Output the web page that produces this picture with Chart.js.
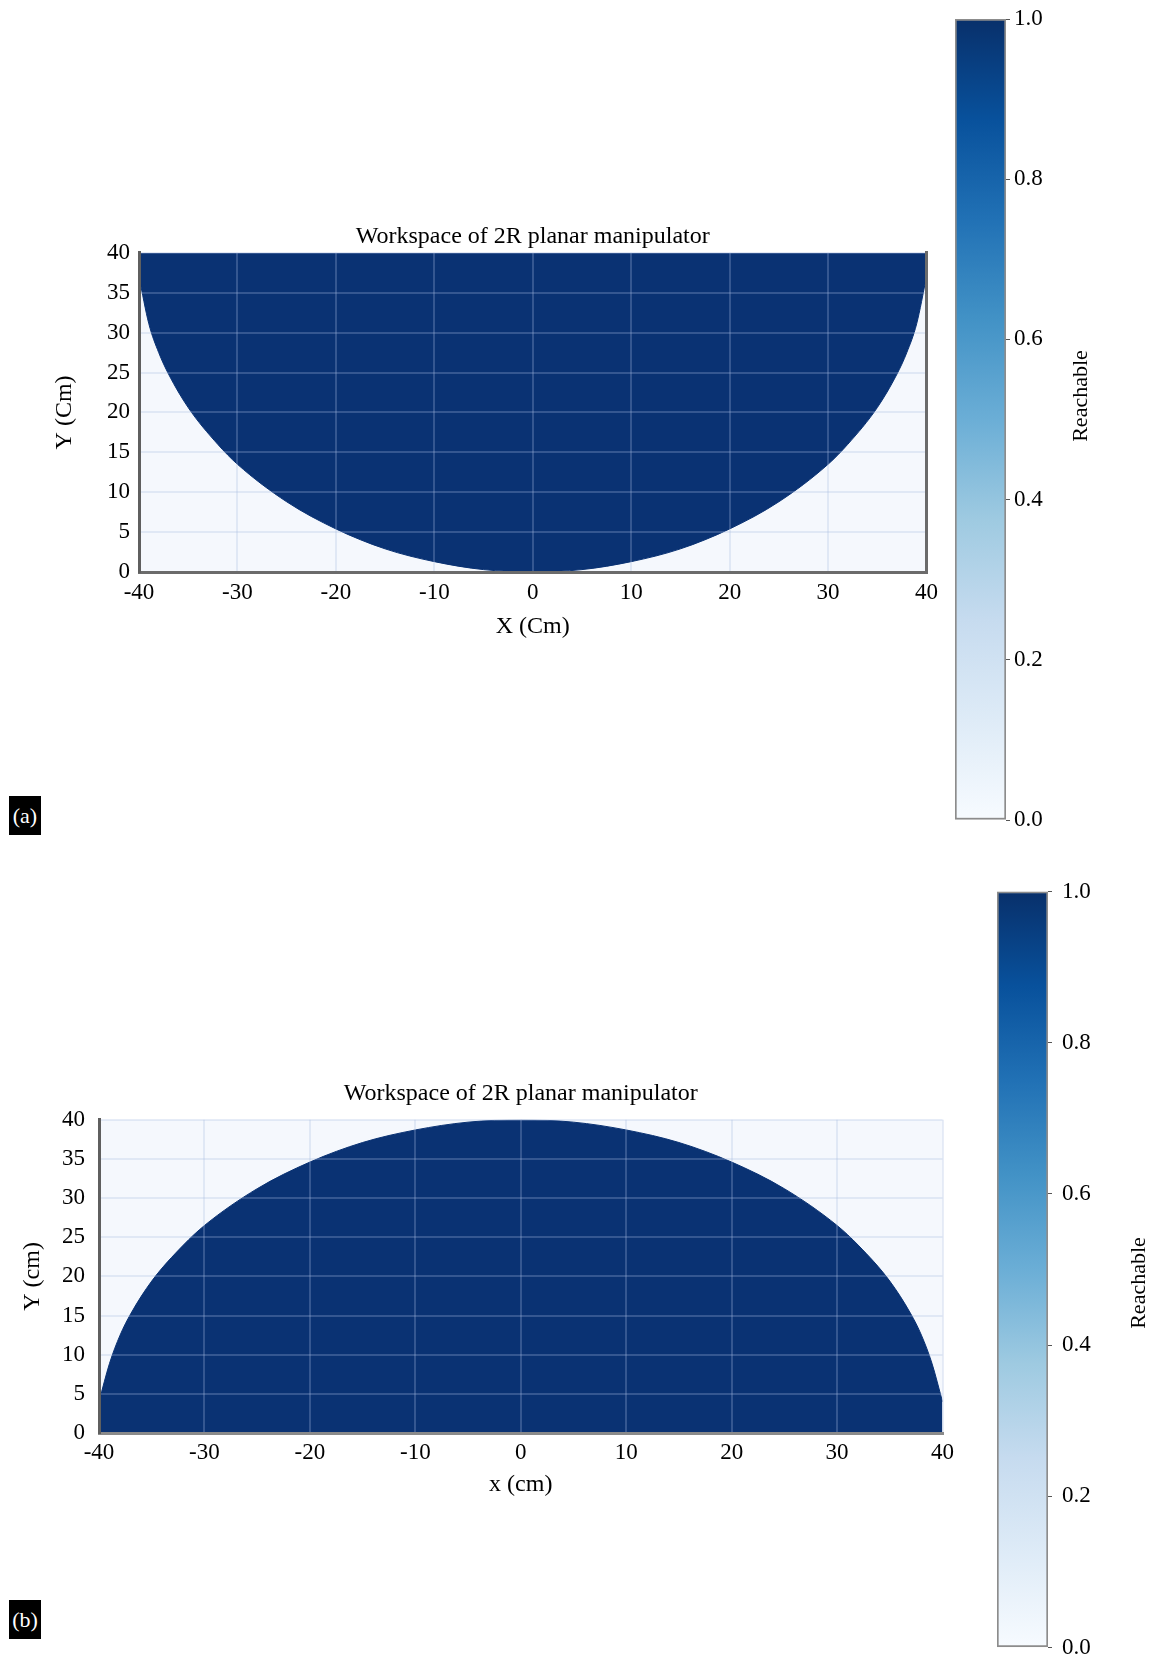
<!DOCTYPE html>
<html>
<head>
<meta charset="utf-8">
<title>Workspace of 2R planar manipulator</title>
<script src="https://cdn.jsdelivr.net/npm/chart.js@4.4.1/dist/chart.umd.min.js"></script>
<style>
  body { margin: 0; background: #fff; }
  #page { position: relative; width: 1157px; height: 1669px; overflow: hidden; font-family: "Liberation Serif", serif; }
  canvas { position: absolute; }
  .tag { position: absolute; left: 9px; width: 32px; height: 39px; background: #000; color: #fff; font-size: 22px; line-height: 39px; text-align: center; }
</style>
</head>
<body>
<div id="page">
  <canvas id="plotA" width="945" height="441" style="left:0;top:200px"></canvas>
  <canvas id="barA" width="212" height="840" style="left:945px;top:0"></canvas>
  <canvas id="plotB" width="960" height="449" style="left:0;top:1050px"></canvas>
  <canvas id="barB" width="167" height="799" style="left:990px;top:870px"></canvas>
  <div class="tag" style="top:796px">(a)</div>
  <div class="tag" style="top:1600px">(b)</div>
</div>
<script>
// boundary of the reachable region (x in cm -> y in cm)
const boundaryX = [-40, -39, -38, -37, -35, -32, -30, -25, -20, -15, -10, -5, 0, 5, 10, 15, 20, 25, 30, 32, 35, 37, 38, 39, 40];
// (a) lower edge of the region, filled up to y = 40
const lowerEdgeA = [37, 31.1, 27.5, 24.8, 20.6, 16.0, 13.5, 8.8, 5.4, 2.9, 1.3, 0.3, 0, 0.3, 1.3, 2.9, 5.4, 8.8, 13.5, 16.0, 20.6, 24.8, 27.5, 31.1, 37];
// (b) upper edge of the region, filled down to y = 0
const upperEdgeB = [4, 8.9, 12.5, 15.2, 19.4, 24.0, 26.5, 31.2, 34.6, 37.1, 38.7, 39.7, 40, 39.7, 38.7, 37.1, 34.6, 31.2, 26.5, 24.0, 19.4, 15.2, 12.5, 8.9, 4];

const xTicks = [-40, -30, -20, -10, 0, 10, 20, 30, 40];
const yTicks = [0, 5, 10, 15, 20, 25, 30, 35, 40];
const barTicks = [0, 0.2, 0.4, 0.6, 0.8, 1.0];

// matplotlib "Blues" stops for the colour bar
const bluesStops = ['#f7fbff', '#deebf7', '#c6dbef', '#9ecae1', '#6baed6', '#4292c6', '#2171b5', '#08519c', '#08306b'];

const SERIF = '"Liberation Serif", "DejaVu Serif", serif';
const NAVY = '#0a3273';
const GRID = 'rgba(170,190,225,0.27)';

const plotBg = {
    id: 'plotBg',
    beforeDraw(chart, args, opts) {
        const a = chart.chartArea;
        const c = chart.ctx;
        c.save();
        c.fillStyle = opts.color;
        c.fillRect(a.left, a.top, a.right - a.left, a.bottom - a.top);
        c.restore();
    }
};

// rotated label reading bottom-to-top (right side of colour bars)
const sideLabel = {
    id: 'sideLabel',
    afterDraw(chart, args, opts) {
        const c = chart.ctx;
        c.save();
        c.translate(opts.x, opts.y);
        c.rotate(-Math.PI / 2);
        c.font = '22px ' + SERIF;
        c.fillStyle = '#000';
        c.textAlign = 'center';
        c.textBaseline = 'middle';
        c.fillText(opts.text, 0, 0);
        c.restore();
    }
};

function workspaceChart(id, edge, cfg) {
    const points = boundaryX.map((x, i) => ({ x: x, y: edge[i] }));
    return new Chart(document.getElementById(id), {
        type: 'line',
        data: {
            datasets: [{
                data: points,
                fill: cfg.fill,
                backgroundColor: NAVY,
                borderColor: NAVY,
                borderWidth: 1,
                pointRadius: 0,
                cubicInterpolationMode: 'monotone'
            }]
        },
        plugins: [plotBg],
        options: {
            responsive: false,
            animation: false,
            layout: { padding: cfg.padding },
            plugins: {
                legend: { display: false },
                tooltip: { enabled: false },
                plotBg: { color: '#f5f8fd' },
                title: {
                    display: true,
                    fullSize: false,
                    text: 'Workspace of 2R planar manipulator',
                    color: '#000',
                    font: { family: SERIF, size: 24, weight: 'normal' },
                    padding: cfg.titlePad
                }
            },
            scales: {
                x: {
                    type: 'linear',
                    min: -40,
                    max: 40,
                    afterBuildTicks: axis => { axis.ticks = xTicks.map(v => ({ value: v })); },
                    afterFit: axis => { axis.height = cfg.xHeight; },
                    ticks: { color: '#000', font: { family: SERIF, size: 23 }, padding: cfg.xTickPad, maxRotation: 0 },
                    grid: { color: GRID, lineWidth: 2, drawTicks: false, z: 1 },
                    border: { display: true, color: cfg.bottomBorder, width: 3, z: 2 },
                    title: { display: true, text: cfg.xTitle, color: '#000', font: { family: SERIF, size: 24 }, padding: 0 }
                },
                y: {
                    type: 'linear',
                    min: 0,
                    max: 40,
                    afterBuildTicks: axis => { axis.ticks = yTicks.map(v => ({ value: v })); },
                    afterFit: axis => { axis.width = cfg.yWidth; },
                    ticks: { color: '#000', font: { family: SERIF, size: 23 }, padding: cfg.yTickPad },
                    grid: { color: GRID, lineWidth: 2, drawTicks: false, z: 1 },
                    border: { display: true, color: '#5f5f5f', width: 3, z: 2 },
                    title: { display: true, text: cfg.yTitle, color: '#000', font: { family: SERIF, size: 24 }, padding: 0 }
                },
                y2: {
                    display: cfg.rightBorder,
                    position: 'right',
                    min: 0,
                    max: 40,
                    afterFit: axis => { axis.width = 0; },
                    ticks: { display: false },
                    grid: { display: false },
                    border: { display: true, color: '#6b6b6b', width: 3, z: 2 }
                }
            }
        }
    });
}

function colorBar(id, cfg) {
    return new Chart(document.getElementById(id), {
        type: 'bar',
        data: {
            labels: [''],
            datasets: [{
                data: [[0, 1]],
                barPercentage: 1,
                categoryPercentage: 1,
                borderSkipped: false,
                borderWidth: 2,
                borderColor: '#8c8c8c',
                backgroundColor: ctx => {
                    const a = ctx.chart.chartArea;
                    if (!a) return bluesStops[4];
                    const g = ctx.chart.ctx.createLinearGradient(0, a.bottom, 0, a.top);
                    bluesStops.forEach((c, i) => g.addColorStop(i / (bluesStops.length - 1), c));
                    return g;
                }
            }]
        },
        plugins: [sideLabel],
        options: {
            responsive: false,
            animation: false,
            layout: { padding: cfg.padding },
            plugins: {
                legend: { display: false },
                tooltip: { enabled: false },
                sideLabel: { text: 'Reachable', x: cfg.labelX, y: cfg.labelY }
            },
            scales: {
                x: { display: false },
                y: {
                    position: 'right',
                    min: 0,
                    max: 1,
                    afterBuildTicks: axis => { axis.ticks = barTicks.map(v => ({ value: v })); },
                    afterFit: axis => { axis.width = cfg.axisWidth; },
                    ticks: {
                        color: '#000',
                        font: { family: SERIF, size: 23, lineHeight: 1 },
                        padding: cfg.tickPad,
                        callback: v => v.toFixed(1)
                    },
                    grid: { drawOnChartArea: false, drawTicks: true, tickLength: 4, color: '#555' },
                    border: { display: false }
                }
            }
        }
    });
}

workspaceChart('plotA', lowerEdgeA, {
    fill: 'end',
    padding: { left: 50, top: 16, right: 16, bottom: 0 },
    titlePad: { top: 6, bottom: 2 },
    xHeight: 69,
    yWidth: 89,
    xTickPad: 7,
    yTickPad: 9,
    xTitle: 'X (Cm)',
    yTitle: 'Y (Cm)',
    bottomBorder: '#6b6b6b',
    rightBorder: true
});

workspaceChart('plotB', upperEdgeB, {
    fill: 'start',
    padding: { left: 18, top: 27, right: 17, bottom: 0 },
    titlePad: { top: 2, bottom: 12 },
    xHeight: 66,
    yWidth: 81,
    xTickPad: 6,
    yTickPad: 14,
    xTitle: 'x (cm)',
    yTitle: 'Y (cm)',
    bottomBorder: '#8a8a8a',
    rightBorder: false
});

colorBar('barA', {
    padding: { left: 10, top: 19, right: 0, bottom: 20 },
    axisWidth: 151,
    tickPad: 4,
    labelX: 136,
    labelY: 396
});

colorBar('barB', {
    padding: { left: 7, top: 17, right: 0, bottom: 0 },
    axisWidth: 109,
    tickPad: 10,
    labelX: 149,
    labelY: 413
});
</script>
</body>
</html>
